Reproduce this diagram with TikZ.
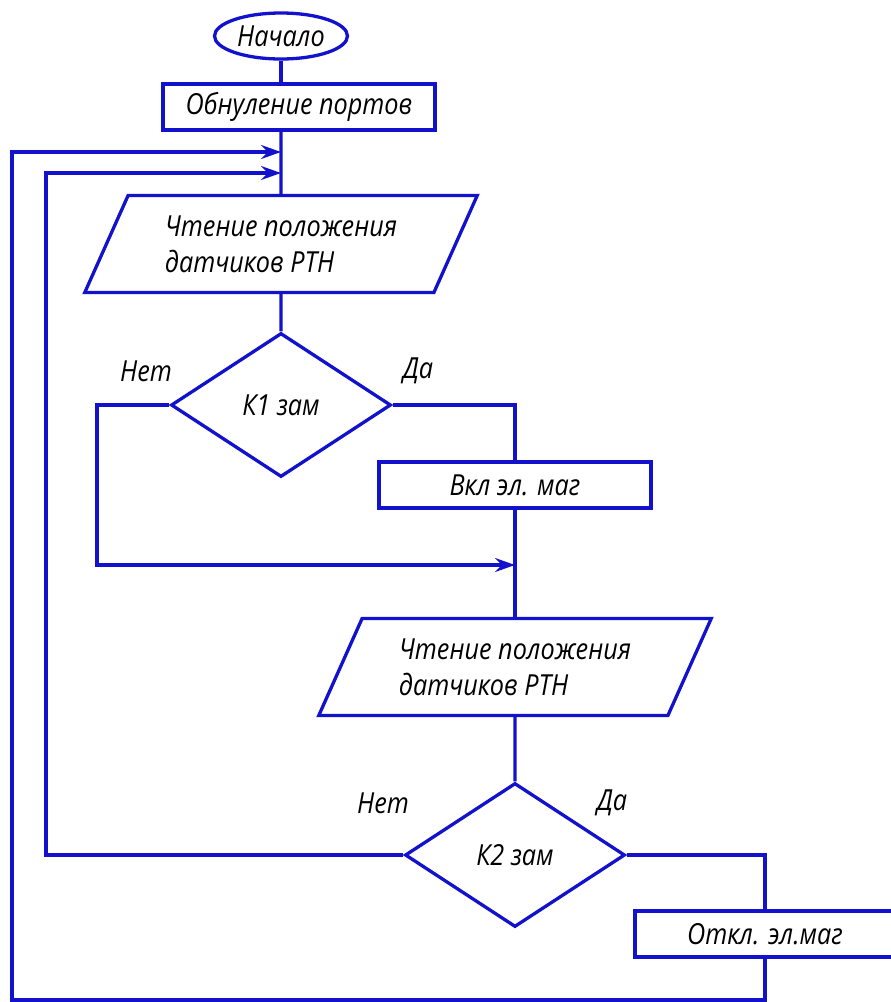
\documentclass[tikz,border=0pt]{standalone}
\usepackage{fontspec}
\setmainfont{Open Sans}[FakeStretch=0.87]
\usepackage{tikz}
\usetikzlibrary{arrows,arrows.meta,shapes}
\definecolor{flowblue}{RGB}{18,18,205}
\tikzstyle{base} = [draw=flowblue, line width=3.3pt, text=black, inner sep=0pt,
    font=\itshape\fontsize{29}{36}\selectfont]
\tikzstyle{term} = [base, ellipse, minimum width=133pt, minimum height=46pt]
\tikzstyle{proc} = [base, rectangle, minimum width=272pt, minimum height=46pt]
\tikzstyle{io} = [base, trapezium, trapezium left angle=60, trapezium right angle=120,
    trapezium stretches=true, minimum width=394pt, minimum height=97pt, align=left]
\tikzstyle{decide} = [base, diamond, minimum width=220pt, minimum height=144pt]
\tikzstyle{lbl} = [font=\itshape\fontsize{29}{36}\selectfont]
\tikzstyle{line} = [draw=flowblue, line width=3.3pt]
\tikzstyle{into} = [-{Stealth[length=20pt,width=14pt,inset=7pt]}]

\begin{document}
\begin{tikzpicture}[x=1pt, y=-1pt]
  \useasboundingbox (0,0) rectangle (891,1002);
  \node [term] (start) at (281,36) {Начало};
  \node [proc] (zero) at (299,107) {Обнуление портов};
  \node [io] (read1) at (281,244) {Чтение положения\\датчиков РТН};
  \node [decide] (k1) at (281,405) {К1 зам};
  \node [proc] (on) at (515,485) {Вкл эл. маг};
  \node [io] (read2) at (515,667) {Чтение положения\\датчиков РТН};
  \node [decide] (k2) at (515,855) {К2 зам};
  \node [proc, minimum width=260pt] (off) at (765,934) {Откл. эл.маг};
  \node [lbl] (no1) at (146,371) {Нет};
  \node [lbl] (yes1) at (418,371) {Да};
  \node [lbl] (no2) at (383,803) {Нет};
  \node [lbl] (yes2) at (612,803) {Да};
  \coordinate (j1) at (281,152);
  \coordinate (j2) at (281,173);
  \coordinate (j3) at (515,565);
  \coordinate (bend1) at (97,565);
  \coordinate (outer) at (12,1000);
  \coordinate (inner) at (46,855);
  \draw [line] (start) -- (start |- zero.north);
  \draw [line] (start |- zero.south) -- (read1.north);
  \draw [line] (read1) -- (k1);
  \draw [line] (k1.east) -| (on.north);
  \draw [line, into] (k1.west) -| (bend1) -- (j3);
  \draw [line] (on) -- (read2);
  \draw [line] (read2) -- (k2);
  \draw [line] (k2.east) -| (off.north);
  \draw [line, into] (off.south) |- (outer) |- (j1);
  \draw [line, into] (k2.west) -- (inner) |- (j2);
\end{tikzpicture}
\end{document}
